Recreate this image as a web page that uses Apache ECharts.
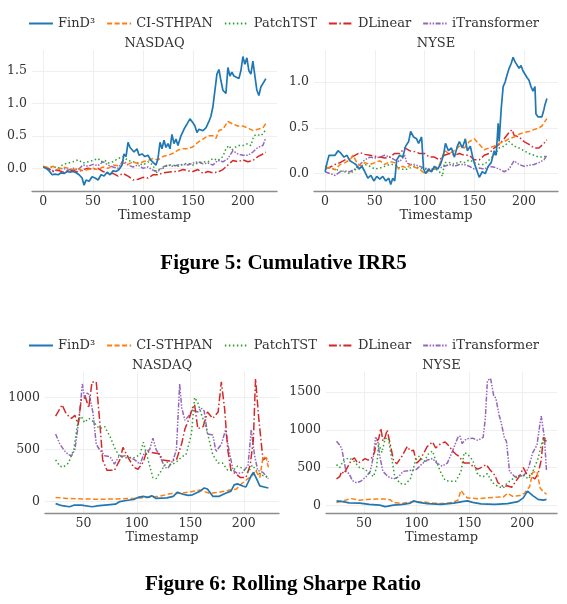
<!DOCTYPE html>
<html>
<head>
<meta charset="utf-8">
<script src="https://cdn.jsdelivr.net/npm/echarts@6/dist/echarts.min.js"></script>
<style>
html,body{margin:0;padding:0;background:#fff;}
#c{width:567px;height:604px;}
</style>
</head>
<body>
<div id="c"></div>
<script>
// ---------- names / ticks ----------
const seriesNames = ['FinD³', 'CI-STHPAN', 'PatchTST', 'DLinear', 'iTransformer'];
const marketNames = ['NASDAQ', 'NYSE'];
const xTicksIrr = [0, 50, 100, 150, 200];
const xTicksSharpe = [50, 100, 150, 200];
const yTicksIrrNasdaq = [0, 0.5, 1.0, 1.5];
const yTicksIrrNyse = [0, 0.5, 1.0];
const yTicksSharpeNasdaq = [0, 500, 1000];
const yTicksSharpeNyse = [0, 500, 1000, 1500];
const figureCaptions = ['Figure 5: Cumulative IRR5', 'Figure 6: Rolling Sharpe Ratio'];

// ---------- Figure 5: Cumulative IRR5, NASDAQ ----------
const irrNasdaqFinD = [[0,0.02],[3,0.0],[6,-0.04],[9,-0.1],[12,-0.09],[15,-0.1],[18,-0.07],[21,-0.08],[24,-0.05],[27,-0.06],[30,-0.05],[33,-0.07],[36,-0.1],[39,-0.15],[41,-0.26],[43,-0.18],[46,-0.2],[49,-0.13],[52,-0.15],[55,-0.18],[58,-0.1],[61,-0.12],[64,-0.06],[67,-0.1],[70,-0.04],[73,-0.05],[76,-0.02],[79,0.05],[81,0.22],[83,0.18],[85,0.4],[87,0.32],[89,0.35],[91,0.25],[94,0.3],[96,0.2],[99,0.22],[102,0.18],[105,0.2],[108,0.12],[110,0.15],[113,0.05],[115,0.15],[117,0.4],[119,0.3],[121,0.43],[123,0.32],[125,0.38],[127,0.3],[129,0.52],[131,0.38],[133,0.45],[135,0.35],[138,0.5],[141,0.6],[144,0.68],[147,0.76],[150,0.7],[152,0.65],[154,0.55],[156,0.6],[158,0.62],[160,0.58],[163,0.62],[166,0.72],[168,0.8],[170,0.95],[172,1.2],[174,1.45],[176,1.52],[178,1.35],[180,1.2],[183,1.15],[185,1.55],[187,1.42],[189,1.48],[191,1.42],[193,1.4],[196,1.38],[198,1.5],[200,1.72],[202,1.6],[204,1.7],[206,1.5],[208,1.45],[210,1.65],[212,1.62],[214,1.2],[216,1.12],[218,1.25],[220,1.28],[223,1.38]];
const irrNasdaqCI = [[0,0.03],[5,0.01],[10,0.03],[15,-0.02],[20,0.02],[25,0.0],[30,-0.02],[35,-0.01],[40,-0.04],[45,-0.02],[50,0.0],[55,-0.02],[60,0.02],[65,0.0],[70,0.05],[75,0.04],[80,0.08],[85,0.06],[90,0.1],[95,0.07],[100,0.1],[105,0.12],[110,0.15],[115,0.13],[120,0.18],[125,0.2],[130,0.23],[135,0.28],[140,0.3],[145,0.3],[150,0.33],[155,0.4],[160,0.45],[165,0.5],[170,0.5],[173,0.46],[176,0.58],[180,0.6],[185,0.72],[190,0.68],[195,0.65],[200,0.65],[205,0.62],[210,0.58],[215,0.6],[220,0.62],[223,0.69]];
const irrNasdaqPatch = [[0,0.02],[5,0.0],[10,0.03],[15,0.0],[20,0.06],[25,0.08],[30,0.1],[35,0.13],[40,0.08],[45,0.1],[50,0.12],[55,0.15],[58,0.1],[62,0.12],[65,0.08],[70,0.1],[75,0.15],[80,0.18],[85,0.12],[90,0.1],[95,0.08],[100,0.05],[105,0.1],[110,0.05],[113,-0.08],[116,-0.02],[120,0.0],[125,0.05],[130,0.05],[135,0.03],[140,0.06],[145,0.08],[150,0.05],[155,0.08],[160,0.1],[165,0.1],[170,0.15],[175,0.12],[180,0.18],[183,0.3],[186,0.35],[189,0.28],[192,0.32],[196,0.35],[200,0.35],[205,0.38],[208,0.35],[211,0.5],[214,0.52],[218,0.5],[221,0.55],[223,0.6]];
const irrNasdaqDL = [[0,0.02],[5,0.0],[10,-0.05],[15,-0.03],[20,-0.06],[25,-0.04],[30,-0.03],[35,-0.06],[40,-0.02],[45,0.0],[50,-0.02],[55,0.0],[60,-0.05],[65,-0.08],[70,-0.08],[75,-0.12],[80,-0.08],[85,-0.12],[90,-0.18],[95,-0.17],[100,-0.14],[105,-0.15],[110,-0.1],[115,-0.1],[120,-0.07],[125,-0.06],[130,-0.05],[135,-0.05],[140,-0.02],[145,-0.04],[150,-0.05],[155,-0.02],[160,-0.08],[165,-0.05],[170,-0.07],[175,-0.06],[180,-0.02],[185,0.05],[190,0.12],[195,0.1],[200,0.13],[205,0.1],[210,0.12],[215,0.18],[220,0.22],[223,0.25]];
const irrNasdaqIT = [[0,0.02],[5,0.0],[10,-0.04],[15,-0.02],[20,0.0],[25,-0.03],[30,0.0],[35,-0.02],[40,0.05],[45,0.03],[50,0.06],[55,0.04],[60,0.1],[65,0.05],[70,0.02],[75,0.0],[80,0.12],[85,0.05],[90,0.02],[95,0.05],[100,0.0],[105,0.02],[110,-0.03],[115,-0.05],[120,0.02],[125,0.05],[130,0.03],[135,0.05],[140,0.06],[145,0.05],[150,0.08],[155,0.1],[160,0.07],[165,0.08],[170,0.05],[175,0.12],[180,0.1],[185,0.15],[190,0.27],[195,0.22],[200,0.2],[205,0.2],[210,0.25],[215,0.32],[220,0.35],[223,0.47]];

// ---------- Figure 5: Cumulative IRR5, NYSE ----------
const irrNyseFinD = [[0,0.02],[2,0.12],[4,0.2],[7,0.2],[10,0.2],[13,0.25],[16,0.22],[19,0.18],[22,0.2],[25,0.14],[28,0.12],[31,0.1],[34,0.05],[37,0.08],[40,0.02],[43,-0.05],[46,-0.02],[49,-0.08],[52,-0.03],[55,-0.06],[58,-0.03],[61,-0.08],[64,-0.05],[66,-0.12],[68,-0.05],[70,-0.08],[72,0.15],[75,0.2],[78,0.18],[81,0.3],[84,0.35],[86,0.46],[89,0.4],[92,0.38],[94,0.33],[97,0.4],[99,0.05],[101,0.0],[104,0.05],[107,0.02],[110,0.08],[113,0.05],[116,0.1],[119,0.2],[121,0.33],[124,0.25],[127,0.28],[130,0.18],[133,0.3],[135,0.35],[138,0.28],[141,0.38],[143,0.25],[146,0.3],[149,0.15],[152,0.05],[155,-0.04],[158,0.02],[161,0.0],[164,0.08],[167,0.12],[170,0.25],[172,0.2],[174,0.55],[175,0.35],[177,0.7],[179,0.95],[181,1.0],[183,1.08],[185,1.15],[187,1.2],[189,1.27],[191,1.22],[193,1.2],[195,1.15],[197,1.18],[199,1.12],[201,1.1],[203,1.05],[205,1.02],[207,0.95],[209,0.9],[211,0.95],[212,0.65],[214,0.62],[216,0.6],[218,0.62],[220,0.7],[221,0.75],[223,0.82]];
const irrNyseCI = [[0,0.05],[5,0.07],[10,0.04],[15,0.1],[20,0.12],[25,0.15],[28,0.2],[32,0.12],[36,0.08],[40,0.12],[45,0.1],[50,0.12],[55,0.14],[60,0.1],[65,0.13],[70,0.12],[74,0.05],[78,0.08],[82,0.06],[86,0.1],[90,0.07],[95,0.05],[100,0.0],[105,0.03],[110,0.05],[115,0.1],[120,0.25],[125,0.22],[130,0.25],[135,0.3],[140,0.28],[145,0.35],[150,0.38],[155,0.32],[160,0.26],[165,0.28],[170,0.3],[175,0.33],[180,0.35],[185,0.38],[190,0.4],[195,0.43],[200,0.45],[205,0.46],[210,0.48],[215,0.5],[218,0.52],[221,0.57],[223,0.6]];
const irrNysePatch = [[0,0.08],[5,0.06],[10,0.05],[15,0.03],[20,0.02],[25,0.0],[30,0.04],[35,0.08],[40,0.1],[45,0.08],[50,0.05],[55,0.06],[60,0.08],[65,0.1],[70,0.1],[75,0.06],[80,0.04],[85,0.06],[90,0.08],[95,0.06],[100,0.05],[105,0.04],[110,0.06],[115,0.02],[118,-0.03],[120,0.12],[125,0.12],[130,0.1],[135,0.13],[140,0.12],[145,0.15],[150,0.12],[155,0.1],[160,0.1],[165,0.15],[170,0.2],[175,0.28],[180,0.3],[185,0.35],[190,0.3],[195,0.28],[200,0.25],[205,0.22],[210,0.2],[215,0.18],[220,0.18],[223,0.2]];
const irrNyseDL = [[0,0.05],[5,0.07],[10,0.1],[15,0.12],[20,0.15],[25,0.17],[30,0.2],[35,0.23],[40,0.21],[45,0.2],[50,0.19],[55,0.18],[60,0.17],[65,0.18],[70,0.22],[75,0.22],[80,0.28],[85,0.25],[90,0.24],[95,0.22],[100,0.22],[105,0.18],[110,0.18],[115,0.15],[120,0.2],[125,0.22],[130,0.2],[135,0.22],[140,0.2],[145,0.2],[150,0.15],[155,0.15],[160,0.2],[165,0.22],[170,0.28],[175,0.32],[180,0.38],[185,0.45],[188,0.48],[190,0.42],[195,0.4],[200,0.35],[205,0.32],[210,0.28],[215,0.28],[220,0.33],[223,0.37]];
const irrNyseIT = [[0,0.02],[5,0.0],[10,-0.02],[15,0.02],[20,0.03],[25,0.02],[30,0.05],[35,0.1],[40,0.15],[45,0.18],[50,0.17],[55,0.18],[60,0.2],[65,0.18],[70,0.15],[75,0.13],[80,0.2],[82,0.12],[85,0.1],[90,0.1],[95,0.08],[100,0.06],[105,0.05],[110,0.05],[115,0.06],[120,0.08],[125,0.1],[130,0.08],[135,0.1],[140,0.1],[145,0.08],[150,0.05],[155,0.06],[160,0.05],[165,0.08],[170,0.07],[175,0.05],[180,0.02],[185,0.05],[190,0.14],[195,0.1],[200,0.08],[205,0.09],[210,0.1],[215,0.12],[220,0.15],[223,0.2]];

// ---------- Figure 6: Rolling Sharpe Ratio, NASDAQ ----------
const sharpeNasdaqFinD = [[24,-20],[30,-40],[37,-50],[41,-35],[48,-35],[58,-50],[65,-40],[75,-30],[80,-25],[84,0],[90,10],[97,20],[101,40],[106,50],[110,40],[114,55],[118,30],[128,35],[134,50],[138,90],[143,70],[148,60],[152,65],[159,100],[163,130],[166,120],[171,50],[177,50],[183,80],[188,100],[191,160],[194,170],[199,150],[202,140],[207,250],[209,280],[211,240],[215,150],[219,140],[223,130]];
const sharpeNasdaqCI = [[24,40],[34,30],[50,25],[65,22],[81,25],[97,30],[109,40],[121,50],[131,75],[140,80],[149,90],[159,110],[168,80],[177,90],[187,110],[193,120],[199,180],[204,220],[208,250],[211,300],[215,230],[218,430],[221,420],[223,330]];
const sharpeNasdaqPatch = [[24,400],[28,340],[31,330],[36,370],[41,500],[45,780],[48,820],[51,760],[55,800],[59,770],[65,700],[70,720],[75,620],[80,500],[84,430],[90,420],[97,420],[103,450],[106,570],[110,420],[115,230],[118,220],[123,300],[128,380],[132,350],[137,380],[142,430],[146,450],[151,650],[154,1000],[157,950],[160,850],[165,700],[171,450],[176,370],[180,370],[185,300],[190,300],[194,340],[199,320],[204,280],[208,350],[213,280],[218,250],[223,230]];
const sharpeNasdaqDL = [[24,820],[30,930],[34,840],[39,800],[42,830],[45,740],[48,980],[52,1000],[55,900],[58,1150],[62,1150],[65,800],[68,400],[72,300],[79,300],[84,400],[87,520],[92,420],[97,330],[101,310],[106,380],[109,480],[115,470],[121,460],[124,400],[131,390],[137,400],[142,560],[145,700],[149,800],[152,900],[154,930],[157,700],[162,720],[166,860],[171,800],[176,860],[179,1150],[182,900],[185,500],[188,300],[193,260],[197,230],[202,230],[206,350],[209,600],[211,1180],[214,800],[218,400],[221,420],[223,380]];
const sharpeNasdaqIT = [[24,650],[28,550],[33,480],[36,450],[39,440],[42,500],[46,800],[49,1130],[51,1000],[54,1050],[56,1000],[59,850],[62,550],[65,500],[70,440],[75,430],[79,360],[83,430],[89,440],[93,430],[98,400],[103,360],[107,470],[112,500],[115,610],[118,500],[121,450],[126,330],[129,320],[134,400],[137,500],[140,1130],[142,900],[145,780],[149,830],[152,880],[157,860],[160,900],[163,870],[166,650],[171,640],[174,480],[179,550],[183,690],[186,500],[190,300],[194,270],[199,280],[204,350],[207,690],[210,450],[213,300],[218,280],[223,220]];

// ---------- Figure 6: Rolling Sharpe Ratio, NYSE ----------
const sharpeNyseFinD = [[24,60],[30,50],[36,35],[46,30],[55,15],[65,5],[70,-15],[73,-10],[78,5],[87,15],[94,30],[97,60],[102,40],[110,25],[123,15],[135,30],[143,50],[148,60],[153,40],[161,20],[174,15],[186,25],[196,50],[201,100],[205,190],[210,130],[215,80],[220,70],[223,80]];
const sharpeNyseCI = [[24,40],[30,60],[38,90],[46,70],[54,80],[62,85],[71,85],[75,75],[78,35],[87,30],[97,50],[107,45],[116,30],[126,25],[134,40],[139,70],[142,200],[145,140],[148,100],[158,90],[167,100],[177,110],[182,110],[186,160],[191,120],[198,130],[202,160],[207,250],[210,440],[214,450],[217,230],[220,180],[223,150]];
const sharpeNysePatch = [[24,540],[27,500],[31,600],[36,630],[41,580],[46,500],[51,480],[55,430],[59,380],[62,500],[64,820],[67,700],[70,880],[73,900],[76,650],[79,400],[84,290],[89,280],[94,350],[99,600],[102,650],[107,580],[111,680],[115,720],[118,600],[123,430],[127,330],[132,320],[137,320],[142,450],[145,700],[148,680],[153,600],[158,400],[163,380],[167,420],[172,300],[177,250],[182,230],[186,300],[191,350],[196,380],[201,400],[206,350],[210,450],[215,620],[218,800],[221,900],[223,850]];
const sharpeNyseDL = [[24,350],[27,380],[29,450],[31,420],[35,520],[38,600],[41,630],[44,560],[47,580],[51,620],[54,600],[57,620],[60,700],[62,850],[64,880],[66,1020],[68,850],[70,900],[72,1000],[75,800],[78,600],[81,550],[86,650],[91,780],[94,720],[97,730],[100,560],[103,600],[107,700],[110,780],[115,840],[118,760],[123,820],[127,840],[131,780],[134,720],[137,680],[140,650],[145,560],[150,560],[153,520],[158,480],[161,500],[166,540],[169,480],[174,400],[177,300],[182,250],[186,260],[190,240],[193,300],[198,400],[201,500],[204,420],[209,380],[212,350],[215,420],[218,600],[220,900],[222,850],[223,860]];
const sharpeNyseIT = [[24,850],[27,800],[29,750],[33,450],[36,420],[39,330],[43,300],[47,320],[52,380],[56,450],[59,650],[61,900],[63,870],[65,650],[68,450],[73,380],[78,350],[83,380],[87,450],[92,460],[97,470],[100,480],[105,550],[110,600],[115,620],[119,560],[124,520],[129,560],[134,720],[139,900],[141,920],[143,820],[147,880],[153,890],[158,860],[163,900],[165,1150],[167,1650],[170,1680],[173,1450],[175,1420],[178,1200],[180,1100],[183,900],[185,850],[188,450],[193,380],[198,400],[201,380],[206,500],[210,700],[214,800],[217,1100],[218,1180],[221,900],[223,460]];

// ---------- styling ----------
const colors = ['#1f77b4', '#ff7f0e', '#2ca02c', '#d62728', '#9467bd'];
const dashes = ['solid', [5, 2.5], [1.5, 2.5], [8, 2.5, 1.5, 2.5], [5, 1.5, 1.5, 1.5, 1.5, 1.5]];
const widths = [1.7, 1.5, 1.5, 1.5, 1.5];
const FONT = 'DejaVu Serif';

const panelData = [
  [irrNasdaqFinD, irrNasdaqCI, irrNasdaqPatch, irrNasdaqDL, irrNasdaqIT],
  [irrNyseFinD, irrNyseCI, irrNysePatch, irrNyseDL, irrNyseIT],
  [sharpeNasdaqFinD, sharpeNasdaqCI, sharpeNasdaqPatch, sharpeNasdaqDL, sharpeNasdaqIT],
  [sharpeNyseFinD, sharpeNyseCI, sharpeNysePatch, sharpeNyseDL, sharpeNyseIT]
];

const grids = [
  {left: 32, top: 50, width: 245, height: 141},
  {left: 314, top: 50, width: 244, height: 141},
  {left: 45, top: 372, width: 234, height: 141},
  {left: 326, top: 372, width: 231, height: 141}
];
const xRanges = [[-11.15, 234.15], [-11.15, 234.15], [14.05, 232.95], [14.05, 232.95]];
const yRanges = [[-0.35, 1.82], [-0.19, 1.35], [-110, 1245], [-100, 1765]];
const xTicks = [xTicksIrr, xTicksIrr, xTicksSharpe, xTicksSharpe];
const yTicks = [yTicksIrrNasdaq, yTicksIrrNyse, yTicksSharpeNasdaq, yTicksSharpeNyse];
const yFmt = [v => v.toFixed(1), v => v.toFixed(1), v => String(v), v => String(v)];

const gridLine = {show: true, lineStyle: {color: '#efefef', width: 1}};

const xAxes = grids.map((g, i) => ({
  gridIndex: i, type: 'value', min: xRanges[i][0], max: xRanges[i][1],
  axisLine: {show: true, onZero: false, lineStyle: {color: '#8c8c8c', width: 1.3}},
  axisTick: {show: false, customValues: xTicks[i]},
  axisLabel: {customValues: xTicks[i], color: '#333', fontSize: 12.5, fontFamily: FONT, margin: 4, formatter: v => String(v)},
  splitLine: gridLine,
  name: 'Timestamp', nameLocation: 'middle', nameGap: 17,
  nameTextStyle: {color: '#333', fontSize: 13, fontFamily: FONT}
}));
const yAxes = grids.map((g, i) => ({
  gridIndex: i, type: 'value', min: yRanges[i][0], max: yRanges[i][1],
  axisLine: {show: false}, axisTick: {show: false, customValues: yTicks[i]},
  axisLabel: {customValues: yTicks[i], color: '#333', fontSize: 12.5, fontFamily: FONT, margin: 5, formatter: yFmt[i]},
  splitLine: gridLine
}));

const series = [];
panelData.forEach((panel, p) => {
  panel.forEach((d, s) => {
    series.push({
      type: 'line', name: seriesNames[s], xAxisIndex: p, yAxisIndex: p,
      data: d, symbol: 'none', showSymbol: false, animation: false,
      lineStyle: {color: colors[s], width: widths[s], type: dashes[s], cap: 'butt'},
      itemStyle: {color: colors[s]}, z: 10 - s
    });
  });
});

const legendBase = {
  left: 'center', data: seriesNames, itemWidth: 24, itemHeight: 10, itemGap: 11,
  itemStyle: {opacity: 0, borderWidth: 0},
  textStyle: {color: '#333', fontSize: 13, fontFamily: FONT}, selectedMode: false
};

const subTitles = [];
grids.forEach((g, i) => {
  subTitles.push({
    type: 'text', x: g.left + g.width / 2, y: g.top - 6,
    style: {text: marketNames[i % 2], fill: '#333', font: '13px "DejaVu Serif"', textAlign: 'center', textVerticalAlign: 'middle'}
  });
});
subTitles.push({type: 'text', x: 283.5, y: 264, style: {text: figureCaptions[0], fill: '#000', font: 'bold 21px "Liberation Serif"', textAlign: 'center', textVerticalAlign: 'middle'}});
subTitles.push({type: 'text', x: 283, y: 585, style: {text: figureCaptions[1], fill: '#000', font: 'bold 21px "Liberation Serif"', textAlign: 'center', textVerticalAlign: 'middle'}});

const chart = echarts.init(document.getElementById('c'), null, {renderer: 'canvas'});
chart.setOption({
  backgroundColor: '#fff',
  animation: false,
  legend: [Object.assign({top: 12}, legendBase), Object.assign({top: 334}, legendBase)],
  grid: grids,
  xAxis: xAxes,
  yAxis: yAxes,
  series: series,
  graphic: subTitles
});
</script>
</body>
</html>
